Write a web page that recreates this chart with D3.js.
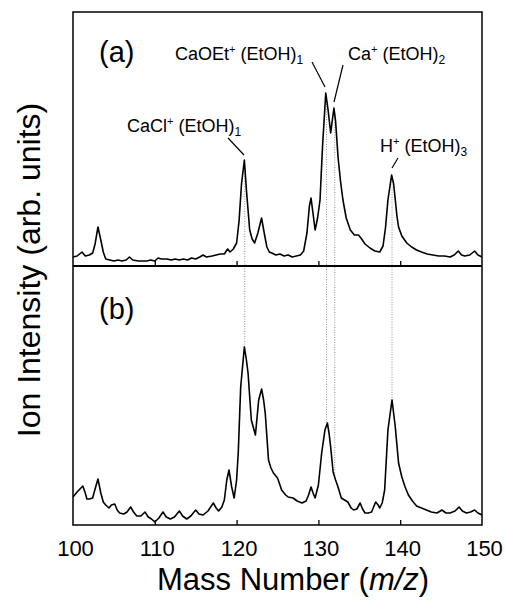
<!DOCTYPE html>
<html>
<head>
<meta charset="utf-8">
<script src="https://cdn.jsdelivr.net/npm/d3@7"></script>
<style>
  body { margin: 0; background: #fff; }
  svg text { font-family: "Liberation Sans", Arial, sans-serif; fill: #000; }
</style>
</head>
<body>
<div id="chart"></div>
<script>
// spectrum (a): mass number and intensity (arb. units)
const massA = [100.0, 100.5, 101.1, 101.5, 102.0, 102.4, 102.7, 103.05, 103.4, 103.7, 104.0, 104.5, 105.0, 105.5, 106.0, 106.5, 106.9, 107.3, 108.0, 108.5, 109.0, 109.5, 110.0, 110.4, 110.8, 111.5, 112.0, 112.5, 113.0, 113.5, 114.0, 114.5, 115.0, 115.5, 115.9, 116.3, 117.0, 117.5, 118.0, 118.5, 118.9, 119.2, 119.6, 120.0, 120.3, 120.6, 120.95, 121.2, 121.6, 121.9, 122.2, 122.6, 123.05, 123.4, 123.7, 124.0, 124.3, 124.8, 125.3, 125.8, 126.3, 126.8, 127.3, 127.8, 128.2, 128.6, 128.9, 129.1, 129.35, 129.6, 129.9, 130.2, 130.5, 130.9, 131.2, 131.5, 131.9, 132.1, 132.4, 132.7, 133.0, 133.4, 133.9, 134.4, 134.9, 135.2, 135.7, 136.3, 136.9, 137.5, 137.9, 138.2, 138.5, 138.95, 139.2, 139.4, 139.6, 139.8, 140.2, 140.8, 141.4, 142.0, 142.6, 143.3, 144.0, 144.7, 145.4, 146.1, 146.6, 147.1, 147.5, 147.9, 148.5, 149.1, 149.5, 150.0];
const intensityA = [9, 10, 14, 10, 11, 13, 22, 39, 26, 14, 7, 6, 5, 6, 5, 6, 9, 6, 5, 5, 5, 6, 5, 8, 7, 7, 6, 7, 6, 7, 6, 8, 7, 9, 11, 9, 10, 11, 12, 12, 17, 14, 17, 23, 45, 82, 106, 76, 36, 27, 23, 33, 48, 32, 19, 14, 13, 11, 12, 10, 11, 9, 10, 11, 15, 33, 60, 68, 52, 36, 48, 66, 119, 173, 155, 133, 158, 145, 109, 85, 66, 48, 36, 31, 31, 28, 22, 18, 15, 14, 20, 38, 66, 91, 82, 66, 50, 39, 30, 23, 19, 16, 14, 12, 11, 10, 10, 9, 11, 15, 11, 10, 11, 15, 11, 9];

// spectrum (b)
const massB = [100.0, 100.5, 101.2, 101.5, 101.7, 102.0, 102.4, 102.7, 103.05, 103.4, 103.7, 104.0, 104.4, 104.7, 105.1, 105.4, 105.7, 106.2, 106.6, 107.05, 107.4, 107.8, 108.3, 108.8, 109.2, 109.6, 110.0, 110.5, 111.0, 111.4, 111.9, 112.4, 113.0, 113.4, 113.9, 114.4, 115.0, 115.4, 115.9, 116.5, 117.15, 117.5, 117.8, 118.2, 118.5, 118.8, 119.07, 119.4, 119.7, 120.0, 120.2, 120.5, 120.95, 121.2, 121.4, 121.8, 122.3, 122.7, 123.06, 123.3, 123.5, 123.9, 124.2, 124.5, 125.0, 125.3, 125.5, 126.0, 126.3, 126.9, 127.4, 128.0, 128.5, 128.8, 129.1, 129.35, 129.6, 130.0, 130.4, 130.8, 131.1, 131.3, 131.5, 131.8, 132.1, 132.4, 132.8, 133.2, 133.6, 134.0, 134.3, 134.7, 135.1, 135.4, 135.7, 136.1, 136.5, 137.0, 137.3, 137.5, 137.8, 138.1, 138.5, 139.0, 139.4, 139.8, 140.2, 140.6, 141.0, 141.5, 142.0, 142.6, 143.2, 143.8, 144.5, 145.1, 145.6, 146.1, 146.7, 147.2, 147.6, 148.1, 148.6, 149.1, 149.5, 150.0];
const intensityB = [28, 33, 39, 32, 26, 26, 27, 36, 46, 32, 23, 20, 17, 20, 21, 15, 12, 11, 13, 18, 13, 9, 9, 13, 8, 6, 3, 7, 13, 8, 6, 8, 14, 9, 6, 9, 15, 11, 10, 14, 22, 17, 14, 18, 25, 45, 55, 38, 27, 45, 72, 138, 178, 165, 152, 105, 90, 125, 136, 125, 112, 65, 57, 52, 47, 40, 35, 30, 28, 27, 24, 22, 24, 30, 38, 32, 27, 40, 72, 95, 102, 92, 78, 53, 45, 38, 27, 25, 23, 17, 15, 16, 22, 16, 12, 12, 13, 23, 20, 17, 22, 35, 95, 125, 98, 62, 48, 38, 30, 24, 19, 17, 15, 13, 12, 15, 12, 12, 14, 18, 14, 12, 13, 15, 12, 10];

// axis ticks and labels
const tickMasses = [110, 120, 130, 140];
const tickLabels = [100, 110, 120, 130, 140, 150];

// dotted guide lines at the assigned peaks
const guideMasses = [121, 131, 132, 139];

// peak assignments in panel (a)
const peakNames = ["CaCl", "CaOEt", "Ca", "H"];
const peakSubs = ["1", "1", "2", "3"];

// layout
const W = 505, H = 600;
const plotLeft = 73, plotRight = 482;
const topA = 12, midY = 266, botB = 525;

const x = d3.scaleLinear().domain([100, 150]).range([plotLeft, plotRight]);
const yA = d3.scaleLinear().domain([0, 254]).range([midY, topA]);
const yB = d3.scaleLinear().domain([0, 259]).range([botB, midY]);

// label placement for the peak assignments (pixels)
const labelPos = [
  { tx: 127, ty: 132, l: [228, 138, 244, 155] },
  { tx: 175, ty: 60, l: [312, 62, 325, 87] },
  { tx: 348, ty: 60, l: [343, 65, 334, 102] },
  { tx: 380, ty: 152, l: [398, 158, 392, 168] }
];

// linear interpolation of a spectrum at a given mass
function valueAt(ms, vs, m) {
  const i = d3.bisectLeft(ms, m);
  if (i <= 0) return vs[0];
  if (i >= ms.length) return vs[vs.length - 1];
  const t = (m - ms[i - 1]) / (ms[i] - ms[i - 1]);
  return vs[i - 1] + t * (vs[i] - vs[i - 1]);
}

function init() {
  const svg = d3.select("#chart").append("svg")
    .attr("width", W)
    .attr("height", H);

  // clip paths for both panels
  const defs = svg.append("defs");
  defs.append("clipPath").attr("id", "clipA").append("rect")
    .attr("x", plotLeft).attr("y", topA).attr("width", plotRight - plotLeft).attr("height", midY - topA);
  defs.append("clipPath").attr("id", "clipB").append("rect")
    .attr("x", plotLeft).attr("y", midY).attr("width", plotRight - plotLeft).attr("height", botB - midY);

  // dotted guide lines (drawn first, under the spectra)
  svg.append("g").selectAll("line")
    .data(guideMasses)
    .join("line")
    .attr("x1", d => x(d))
    .attr("x2", d => x(d))
    .attr("y1", d => yA(valueAt(massA, intensityA, d)))
    .attr("y2", d => yB(valueAt(massB, intensityB, d)))
    .attr("stroke", "#777")
    .attr("stroke-width", 0.8)
    .attr("stroke-dasharray", "1,1.5");

  // spectra
  const lineA = d3.line().x((d, i) => x(massA[i])).y(d => yA(d));
  const lineB = d3.line().x((d, i) => x(massB[i])).y(d => yB(d));

  svg.append("path")
    .datum(intensityA)
    .attr("clip-path", "url(#clipA)")
    .attr("fill", "none")
    .attr("stroke", "#000")
    .attr("stroke-width", 1.6)
    .attr("stroke-linejoin", "round")
    .attr("d", lineA);

  svg.append("path")
    .datum(intensityB)
    .attr("clip-path", "url(#clipB)")
    .attr("fill", "none")
    .attr("stroke", "#000")
    .attr("stroke-width", 1.6)
    .attr("stroke-linejoin", "round")
    .attr("d", lineB);

  // frame and panel divider
  svg.append("rect")
    .attr("x", plotLeft).attr("y", topA)
    .attr("width", plotRight - plotLeft).attr("height", botB - topA)
    .attr("fill", "none").attr("stroke", "#000").attr("stroke-width", 1.5);
  svg.append("line")
    .attr("x1", plotLeft).attr("x2", plotRight)
    .attr("y1", midY).attr("y2", midY)
    .attr("stroke", "#000").attr("stroke-width", 2);

  // inward ticks on both panel bottoms
  const tickAxis = d3.axisBottom(x).tickValues(tickMasses).tickSize(-5).tickFormat("");
  [midY, botB].forEach(yy => {
    const g = svg.append("g").attr("transform", `translate(0,${yy})`).call(tickAxis);
    g.select(".domain").remove();
    g.selectAll(".tick line").attr("stroke", "#000").attr("stroke-width", 1.3);
  });

  // tick labels
  const labelAxis = d3.axisBottom(x).tickValues(tickLabels).tickSize(0).tickPadding(0).tickFormat(d3.format("d"));
  const gl = svg.append("g").attr("transform", `translate(0,${botB})`).call(labelAxis);
  gl.select(".domain").remove();
  gl.selectAll(".tick text")
    .attr("y", 31)
    .attr("dy", null)
    .attr("dx", 2)
    .style("font-size", "22px")
    .style("font-family", "'Liberation Sans', Arial, sans-serif");

  // axis titles
  const xt = svg.append("text")
    .attr("x", 157)
    .attr("y", 590)
    .style("font-size", "31px");
  xt.append("tspan").text("Mass Number (");
  xt.append("tspan").style("font-style", "italic").text("m/z");
  xt.append("tspan").text(")");

  svg.append("text")
    .attr("transform", "translate(40,270) rotate(-90)")
    .attr("text-anchor", "middle")
    .style("font-size", "32px")
    .text("Ion Intensity (arb. units)");

  // panel tags
  svg.append("text").attr("x", 99).attr("y", 62).style("font-size", "29px").text("(a)");
  svg.append("text").attr("x", 99).attr("y", 319).style("font-size", "29px").text("(b)");

  // peak assignments with leader lines
  peakNames.forEach((name, i) => {
    const p = labelPos[i];
    const t = svg.append("text").attr("x", p.tx).attr("y", p.ty).style("font-size", "18px");
    t.append("tspan").text(name);
    t.append("tspan").attr("dy", -7).style("font-size", "11px").text("+");
    t.append("tspan").attr("dy", 7).text("\u00a0(EtOH)");
    t.append("tspan").attr("dy", 4).style("font-size", "12px").text(peakSubs[i]);

    svg.append("line")
      .attr("x1", p.l[0]).attr("y1", p.l[1])
      .attr("x2", p.l[2]).attr("y2", p.l[3])
      .attr("stroke", "#000").attr("stroke-width", 1.2);
  });
}

if (document.readyState === 'loading') {
  document.addEventListener('DOMContentLoaded', init);
} else {
  init();
}
</script>
</body>
</html>
